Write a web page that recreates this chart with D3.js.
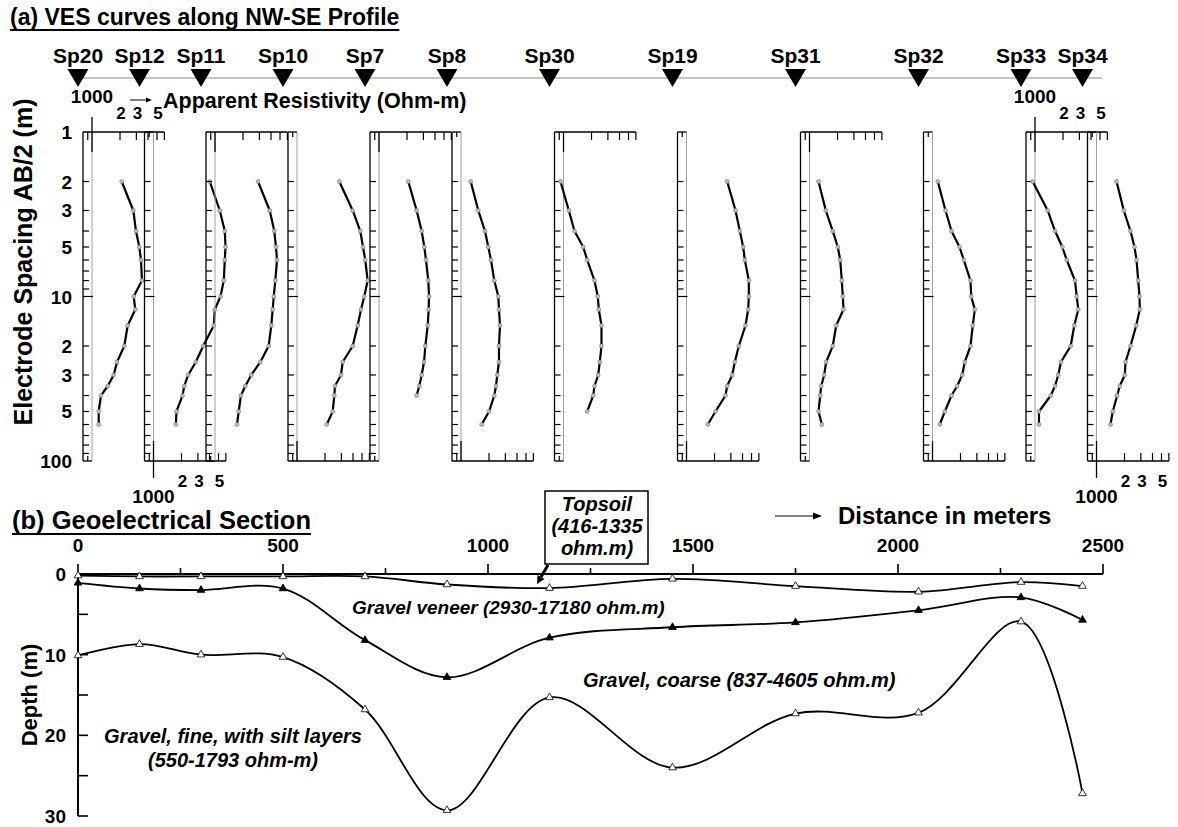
<!DOCTYPE html>
<html><head><meta charset="utf-8">
<script src="https://cdn.jsdelivr.net/npm/d3@7"></script>
<style>
body{margin:0;background:#fff}
svg{display:block}
text{font-family:"Liberation Sans",Arial,Helvetica,sans-serif;font-weight:bold;fill:#000}
</style>
</head><body>
<svg id="c" width="1178" height="827"></svg>
<script>
// ---------------- DATA ----------------
const stations = ["Sp20","Sp12","Sp11","Sp10","Sp7","Sp8","Sp30","Sp19","Sp31","Sp32","Sp33","Sp34"];
const distances = [0,150,300,500,700,900,1150,1450,1750,2050,2300,2450];
const spacingAB2 = [2,3,4,5,6,8,10,12,15,20,25,30,35,40,50,60];
// apparent resistivity (ohm-m) read for each sounding
const rhoSp20 = [2085,2780,2972,3225,3362,3446,2807,2921,2419,2224,1857,1711,1476,1249,1180,1180];
const rhoSp12 = [4030,5160,5840,5945,5840,5700,5250,4560,4450,3420,2850,2360,2140,2050,1765,1740];
const rhoSp11 = [2900,3875,4340,4525,4640,4450,4280,4170,4030,3775,3070,2455,2118,1900,1798,1723];
const rhoSp10 = [2850,3970,4790,5120,5420,5750,5290,4880,4490,3970,3100,2970,2560,2520,2420,2085];
const rhoSp7  = [2065,2540,2875,3070,3200,3390,3450,3420,3340,3150,3050,2875,2710,2540];
const rhoSp8  = [1271,1534,1810,1965,2100,2280,2518,2560,2625,2560,2560,2455,2377,2280,2000,1668];
const rhoSp30 = [928,1140,1312,1628,1798,2154,2337,2395,2560,2560,2455,2360,2154,2085,1798];
const rhoSp19 = [2737,3364,3743,4068,4236,4677,4677,4603,4307,3650,3304,3100,2737,2625,2050,1694];
const rhoSp31 = [1250,1496,1778,2014,2138,2224,2280,2320,1936,1778,1509,1438,1336,1303,1250,1357];
const rhoSp32 = [1140,1380,1600,1950,2170,2560,2607,2850,2710,2560,2224,2085,1842,1600,1357,1197];
const rhoSp33 = [944,1368,1642,1965,2193,2693,2807,2921,2645,2419,1900,1778,1642,1476,1103,1103];
const rhoSp34 = [1642,1965,2320,2560,2693,2807,2900,2921,2672,2320,2050,2014,1778,1668,1496,1413];
const vesSeries = [rhoSp20,rhoSp12,rhoSp11,rhoSp10,rhoSp7,rhoSp8,rhoSp30,rhoSp19,rhoSp31,rhoSp32,rhoSp33,rhoSp34];
const spacingTickValues = [1,2,3,5,10,20,30,50,100];
const spacingTickLabels = ["1","2","3","5","10","2","3","5","100"];
const rhoTickValues = [2000,3000,5000];
const rhoTickLabels = ["2","3","5"];
// geoelectrical section: depth (m) of layer boundaries at each station
const topsoilBase = [0.2,0.3,0.3,0.3,0.3,1.3,1.75,0.6,1.5,2.2,1.0,1.5];
const veneerBase  = [1.1,1.8,2.0,1.8,8.2,12.8,7.9,6.6,6.0,4.5,2.9,5.7];
const coarseBase  = [10.1,8.7,10.0,10.3,16.8,29.3,15.3,24.0,17.3,17.2,5.9,27.2];
const distTicks = [0,500,1000,1500,2000,2500];
const depthTicks = [0,10,20,30];

// ---------------- SCALES ----------------
const svg = d3.select("#c");
const xDist = d3.scaleLinear().domain([0,2500]).range([78,1103]);
const yDepth = d3.scaleLinear().domain([0,30]).range([574,816]);
const ySp = d3.scaleLog().domain([1,100]).range([132,461]);

function uline(x,y,txt,size){
  const t=svg.append("text").attr("x",x).attr("y",y).attr("font-size",size).text(txt);
  const w=t.node().getComputedTextLength();
  svg.append("line").attr("x1",x).attr("x2",x+w).attr("y1",y+5).attr("y2",y+5)
    .attr("stroke","#000").attr("stroke-width",2);
}
uline(10,25,"(a) VES curves along NW-SE Profile",23);

// ---------------- STATION ROW ----------------
svg.append("line").attr("x1",74).attr("x2",1102).attr("y1",78).attr("y2",78)
  .attr("stroke","#888").attr("stroke-width",1);
stations.forEach((s,i)=>{
  const x=xDist(distances[i]);
  svg.append("path").attr("d",`M${x-10.5},69L${x+10.5},69L${x},87Z`).attr("fill","#000");
  svg.append("text").attr("x",x).attr("y",63).attr("text-anchor","middle").attr("font-size",21).text(s);
});

// arrow + apparent resistivity title
svg.append("line").attr("x1",130).attr("x2",150).attr("y1",100).attr("y2",100).attr("stroke","#000").attr("stroke-width",1);
svg.append("path").attr("d","M152,100L146,97.5L146,102.5Z").attr("fill","#000");
svg.append("text").attr("x",163).attr("y",108).attr("font-size",21.5).text("Apparent Resistivity (Ohm-m)");

// y axis labels for VES
spacingTickValues.forEach((v,k)=>{
  svg.append("text").attr("x",72).attr("y",ySp(v)+7).attr("text-anchor","end").attr("font-size",19).text(spacingTickLabels[k]);
});
svg.append("text").attr("transform","translate(32,262) rotate(-90)").attr("text-anchor","middle")
  .attr("font-size",25).text("Electrode Spacing AB/2 (m)");

// ---------------- VES PANELS ----------------
const minorSp=[2,3,4,5,6,7,8,9,20,30,40,50,60,70,80,90];
const axisRho=[900,2000,3000,4000,5000,6000];
const labelled=[0,1,10,11];
vesSeries.forEach((rho,i)=>{
  const L=xDist(distances[i])+5;
  const xr=d3.scaleLog().domain([800,8000]).range([L,L+93]);
  const g=svg.append("g");
  const top=(i%2===0);
  const yA=top?132:461, yS=top?461:132, dir=top?1:-1;
  const x1k=xr(1000);
  g.append("line").attr("x1",x1k).attr("x2",x1k).attr("y1",132).attr("y2",461).attr("stroke","#a0a0a0").attr("stroke-width",1);
  g.append("line").attr("x1",L).attr("x2",L).attr("y1",132).attr("y2",461).attr("stroke","#000").attr("stroke-width",1.3);
  minorSp.forEach(v=>g.append("line").attr("x1",L).attr("x2",L+6).attr("y1",ySp(v)).attr("y2",ySp(v)).attr("stroke","#000").attr("stroke-width",1.2));
  g.append("line").attr("x1",L).attr("x2",x1k+1).attr("y1",ySp(10)).attr("y2",ySp(10)).attr("stroke","#000").attr("stroke-width",1.2);
  // labelled axis
  g.append("line").attr("x1",L).attr("x2",xr(6000)).attr("y1",yA).attr("y2",yA).attr("stroke","#000").attr("stroke-width",1.3);
  axisRho.forEach(v=>g.append("line").attr("x1",xr(v)).attr("x2",xr(v)).attr("y1",yA).attr("y2",yA+dir*8).attr("stroke","#000").attr("stroke-width",1.2));
  g.append("line").attr("x1",x1k).attr("x2",x1k).attr("y1",yA).attr("y2",yA+dir*20).attr("stroke","#000").attr("stroke-width",1.3);
  // stub
  g.append("line").attr("x1",L).attr("x2",x1k).attr("y1",yS).attr("y2",yS).attr("stroke","#000").attr("stroke-width",1.3);
  g.append("line").attr("x1",xr(900)).attr("x2",xr(900)).attr("y1",yS).attr("y2",yS-dir*5).attr("stroke","#000").attr("stroke-width",1.2);
  if(labelled.includes(i)){
    if(top){
      g.append("line").attr("x1",x1k).attr("x2",x1k).attr("y1",117).attr("y2",132).attr("stroke","#000").attr("stroke-width",1.3);
      g.append("text").attr("x",x1k).attr("y",103).attr("text-anchor","middle").attr("font-size",19).text("1000");
      rhoTickValues.forEach((v,k)=>g.append("text").attr("x",xr(v)+1).attr("y",119).attr("text-anchor","middle").attr("font-size",17).text(rhoTickLabels[k]));
    } else {
      g.append("line").attr("x1",x1k).attr("x2",x1k).attr("y1",461).attr("y2",478).attr("stroke","#000").attr("stroke-width",1.3);
      g.append("text").attr("x",x1k).attr("y",503).attr("text-anchor","middle").attr("font-size",19).text("1000");
      rhoTickValues.forEach((v,k)=>g.append("text").attr("x",xr(v)+1).attr("y",487).attr("text-anchor","middle").attr("font-size",17).text(rhoTickLabels[k]));
    }
  }
  const pts=rho.map((r,k)=>[xr(r),ySp(spacingAB2[k])]);
  g.append("path").attr("d",d3.line()(pts)).attr("fill","none").attr("stroke","#000").attr("stroke-width",2.2).attr("stroke-linejoin","round");
  pts.forEach(p=>g.append("circle").attr("cx",p[0]).attr("cy",p[1]).attr("r",2).attr("fill","#bbb").attr("stroke","#777").attr("stroke-width",0.6));
});

// ---------------- SECTION (b) ----------------
uline(12,529,"(b) Geoelectrical Section",25.5);
svg.append("line").attr("x1",775).attr("x2",816).attr("y1",516).attr("y2",516).attr("stroke","#000").attr("stroke-width",1.2);
svg.append("path").attr("d","M822,516L813,512.5L813,519.5Z").attr("fill","#000");
svg.append("text").attr("x",838).attr("y",524).attr("font-size",24).text("Distance in meters");

// x axis (top)
svg.append("line").attr("x1",xDist(0)).attr("x2",xDist(2500)).attr("y1",574).attr("y2",574).attr("stroke","#000").attr("stroke-width",2);
d3.range(0,2501,250).forEach(v=>{
  const major=v%500===0;
  svg.append("line").attr("x1",xDist(v)).attr("x2",xDist(v)).attr("y1",574).attr("y2",574-(major?10:6)).attr("stroke","#000").attr("stroke-width",1.6);
});
distTicks.forEach(v=>svg.append("text").attr("x",xDist(v)).attr("y",552).attr("text-anchor","middle").attr("font-size",19).text(v));
// depth axis
svg.append("line").attr("x1",78).attr("x2",78).attr("y1",574).attr("y2",816).attr("stroke","#000").attr("stroke-width",2);
d3.range(0,31,5).forEach(v=>svg.append("line").attr("x1",78).attr("x2",88).attr("y1",yDepth(v)).attr("y2",yDepth(v)).attr("stroke","#000").attr("stroke-width",1.6));
depthTicks.forEach(v=>svg.append("text").attr("x",66).attr("y",yDepth(v)+7).attr("text-anchor","end").attr("font-size",19).text(v));
svg.append("text").attr("transform","translate(37,695) rotate(-90)").attr("text-anchor","middle").attr("font-size",22).text("Depth (m)");

const bLine=d3.line().curve(d3.curveCatmullRom.alpha(0.5));
[[topsoilBase,"#fff"],[veneerBase,"#000"],[coarseBase,"#fff"]].forEach(([arr,fill])=>{
  const pts=arr.map((d,k)=>[xDist(distances[k]),yDepth(d)]);
  svg.append("path").attr("d",bLine(pts)).attr("fill","none").attr("stroke","#000").attr("stroke-width",1.8);
  pts.forEach(p=>svg.append("path").attr("d",d3.symbol(d3.symbolTriangle,26)()).attr("transform",`translate(${p[0]},${p[1]})`)
    .attr("fill",fill).attr("stroke","#000").attr("stroke-width",0.8));
});

function itxt(x,y,t,size,anchor){svg.append("text").attr("x",x).attr("y",y).attr("font-size",size).attr("font-style","italic").attr("text-anchor",anchor||"start").text(t);}
itxt(352,614,"Gravel veneer (2930-17180 ohm.m)",19);
itxt(583,687,"Gravel, coarse (837-4605 ohm.m)",20);
itxt(233,743,"Gravel, fine, with silt layers",20,"middle");
itxt(233,767,"(550-1793 ohm-m)",20,"middle");
// topsoil callout
svg.append("rect").attr("x",545).attr("y",491).attr("width",103).attr("height",73).attr("fill","#fff").attr("stroke","#000").attr("stroke-width",1.5);
itxt(597,511,"Topsoil",20,"middle");
itxt(597,533,"(416-1335",20,"middle");
itxt(597,555,"ohm.m)",20,"middle");
svg.append("line").attr("x1",548).attr("y1",565).attr("x2",541).attr("y2",577).attr("stroke","#000").attr("stroke-width",3);
svg.append("path").attr("d","M537,584L544.5,579L537.5,575Z").attr("fill","#000");
</script>
</body></html>
